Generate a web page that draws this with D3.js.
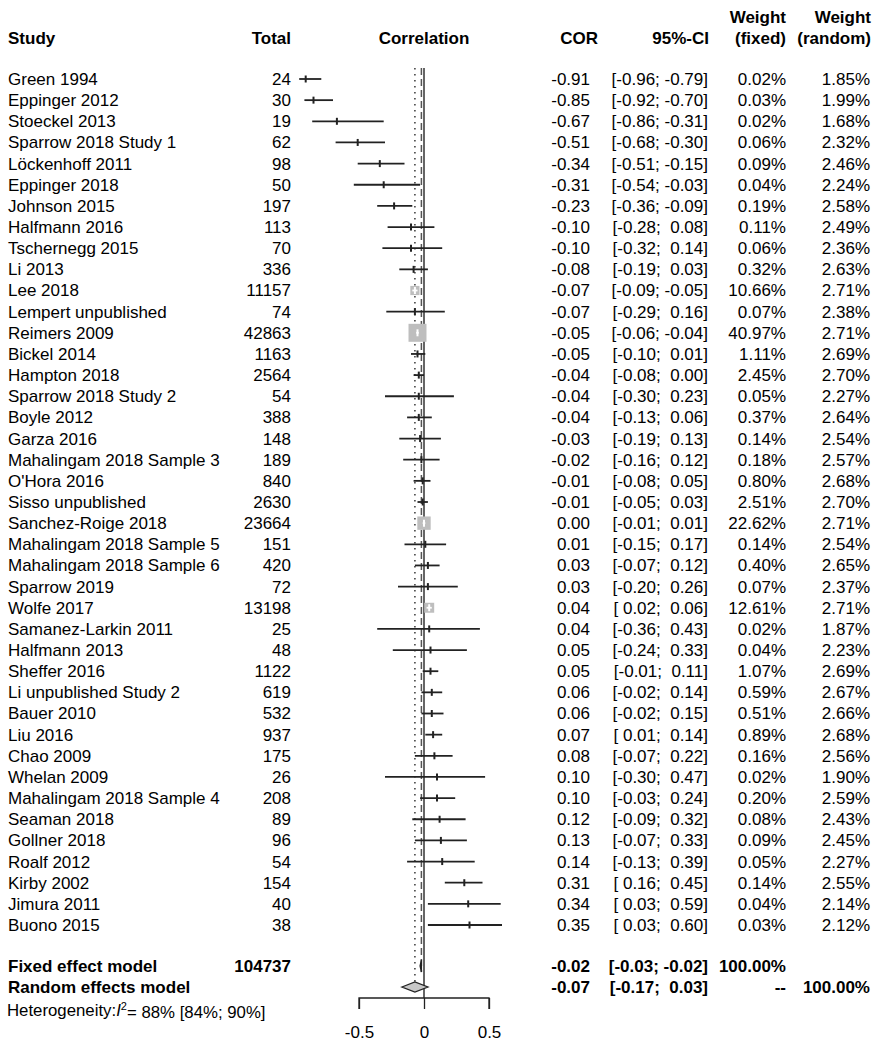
<!DOCTYPE html>
<html>
<head>
<meta charset="utf-8">
<script src="https://cdn.jsdelivr.net/npm/d3@7"></script>
<style>
  body { margin: 0; background: #fff; }
  svg text { font-family: "Liberation Sans", Arial, sans-serif; white-space: pre; }
</style>
</head>
<body>
<svg id="forest" width="877" height="1050"></svg>
<script>
const studies = ["Green 1994", "Eppinger 2012", "Stoeckel 2013", "Sparrow 2018 Study 1", "Löckenhoff 2011",
  "Eppinger 2018", "Johnson 2015", "Halfmann 2016", "Tschernegg 2015", "Li 2013", "Lee 2018",
  "Lempert unpublished", "Reimers 2009", "Bickel 2014", "Hampton 2018", "Sparrow 2018 Study 2",
  "Boyle 2012", "Garza 2016", "Mahalingam 2018 Sample 3", "O'Hora 2016", "Sisso unpublished",
  "Sanchez-Roige 2018", "Mahalingam 2018 Sample 5", "Mahalingam 2018 Sample 6", "Sparrow 2019",
  "Wolfe 2017", "Samanez-Larkin 2011", "Halfmann 2013", "Sheffer 2016", "Li unpublished Study 2",
  "Bauer 2010", "Liu 2016", "Chao 2009", "Whelan 2009", "Mahalingam 2018 Sample 4", "Seaman 2018",
  "Gollner 2018", "Roalf 2012", "Kirby 2002", "Jimura 2011", "Buono 2015"];
const totals = [24, 30, 19, 62, 98, 50, 197, 113, 70, 336, 11157, 74, 42863, 1163, 2564, 54, 388, 148,
  189, 840, 2630, 23664, 151, 420, 72, 13198, 25, 48, 1122, 619, 532, 937, 175, 26, 208, 89, 96, 54,
  154, 40, 38];
const cor = [-0.91, -0.85, -0.67, -0.51, -0.34, -0.31, -0.23, -0.10, -0.10, -0.08, -0.07, -0.07, -0.05,
  -0.05, -0.04, -0.04, -0.04, -0.03, -0.02, -0.01, -0.01, 0.00, 0.01, 0.03, 0.03, 0.04, 0.04, 0.05,
  0.05, 0.06, 0.06, 0.07, 0.08, 0.10, 0.10, 0.12, 0.13, 0.14, 0.31, 0.34, 0.35];
const lower = [-0.96, -0.92, -0.86, -0.68, -0.51, -0.54, -0.36, -0.28, -0.32, -0.19, -0.09, -0.29, -0.06,
  -0.10, -0.08, -0.30, -0.13, -0.19, -0.16, -0.08, -0.05, -0.01, -0.15, -0.07, -0.20, 0.02, -0.36, -0.24,
  -0.01, -0.02, -0.02, 0.01, -0.07, -0.30, -0.03, -0.09, -0.07, -0.13, 0.16, 0.03, 0.03];
const upper = [-0.79, -0.70, -0.31, -0.30, -0.15, -0.03, -0.09, 0.08, 0.14, 0.03, -0.05, 0.16, -0.04,
  0.01, 0.00, 0.23, 0.06, 0.13, 0.12, 0.05, 0.03, 0.01, 0.17, 0.12, 0.26, 0.06, 0.43, 0.33, 0.11, 0.14,
  0.15, 0.14, 0.22, 0.47, 0.24, 0.32, 0.33, 0.39, 0.45, 0.59, 0.60];
const weightFixed = [0.02, 0.03, 0.02, 0.06, 0.09, 0.04, 0.19, 0.11, 0.06, 0.32, 10.66, 0.07, 40.97, 1.11,
  2.45, 0.05, 0.37, 0.14, 0.18, 0.80, 2.51, 22.62, 0.14, 0.40, 0.07, 12.61, 0.02, 0.04, 1.07, 0.59, 0.51,
  0.89, 0.16, 0.02, 0.20, 0.08, 0.09, 0.05, 0.14, 0.04, 0.03];
const weightRandom = [1.85, 1.99, 1.68, 2.32, 2.46, 2.24, 2.58, 2.49, 2.36, 2.63, 2.71, 2.38, 2.71, 2.69,
  2.70, 2.27, 2.64, 2.54, 2.57, 2.68, 2.70, 2.71, 2.54, 2.65, 2.37, 2.71, 1.87, 2.23, 2.69, 2.67, 2.66,
  2.68, 2.56, 1.90, 2.59, 2.43, 2.45, 2.27, 2.55, 2.14, 2.12];

const fixedModel = {label: "Fixed effect model", total: 104737, est: -0.02, lo: -0.03, hi: -0.02, wf: "100.00%", wr: ""};
const randomModel = {label: "Random effects model", total: null, est: -0.07, lo: -0.17, hi: 0.03, wf: "--", wr: "100.00%"};
const axisTicks = [-0.5, 0, 0.5];
const axisLabels = ["-0.5", "0", "0.5"];

const svg = d3.select("#forest");
const fs = 17;

const x = d3.scaleLinear().domain([-1, 1]).range([294, 554]);
const y = d3.scaleLinear().domain([0, studies.length - 1]).range([79, 925]);
const yFixed = 966, yRandom = 987, yAxis = 998;

const fmt = v => (v < 0 ? "" : " ") + v.toFixed(2);
const ci = (l, u) => `[${fmt(l)}; ${fmt(u)}]`;

// columns (right edges)
const col = {total: 291, cor: 590, ci: 708, wf: 786, wr: 870};

// header
const head = svg.append("g").attr("font-weight", "bold").attr("font-size", fs).attr("fill", "#000");
head.append("text").attr("x", 8).attr("y", 38).attr("dy", "0.35em").text("Study");
head.append("text").attr("x", col.total).attr("y", 38).attr("dy", "0.35em").attr("text-anchor", "end").text("Total");
head.append("text").attr("x", x(0)).attr("y", 38).attr("dy", "0.35em").attr("text-anchor", "middle").text("Correlation");
head.append("text").attr("x", 598).attr("y", 38).attr("dy", "0.35em").attr("text-anchor", "end").text("COR");
head.append("text").attr("x", 709).attr("y", 38).attr("dy", "0.35em").attr("text-anchor", "end").text("95%-CI");
head.append("text").attr("x", col.wf).attr("y", 17).attr("dy", "0.35em").attr("text-anchor", "end").text("Weight");
head.append("text").attr("x", col.wf).attr("y", 38).attr("dy", "0.35em").attr("text-anchor", "end").text("(fixed)");
head.append("text").attr("x", 871).attr("y", 17).attr("dy", "0.35em").attr("text-anchor", "end").text("Weight");
head.append("text").attr("x", 871).attr("y", 38).attr("dy", "0.35em").attr("text-anchor", "end").text("(random)");

// reference lines
const lines = svg.append("g").attr("fill", "none");
lines.append("line").attr("x1", x(0)).attr("x2", x(0)).attr("y1", 68).attr("y2", yAxis)
  .attr("stroke", "#333").attr("stroke-width", 1.5);
lines.append("line").attr("x1", x(fixedModel.est)).attr("x2", x(fixedModel.est)).attr("y1", 68).attr("y2", yFixed + 6)
  .attr("stroke", "#555").attr("stroke-width", 1.5).attr("stroke-dasharray", "7,4");
lines.append("line").attr("x1", x(randomModel.est)).attr("x2", x(randomModel.est)).attr("y1", 68).attr("y2", yRandom - 5)
  .attr("stroke", "#444").attr("stroke-width", 1.6).attr("stroke-dasharray", "1.6,4.4");

// study rows
const rows = studies.map((s, i) => ({
  name: s, total: totals[i], est: cor[i], lo: lower[i], hi: upper[i],
  wf: weightFixed[i], wr: weightRandom[i], i
}));

const marks = svg.append("g");
rows.forEach(d => {
  const cy = y(d.i);
  const side = 2.81 * Math.sqrt(d.wf);
  const inside = (x(d.hi) - x(d.lo)) < side;
  if (side > 5) {
    marks.append("rect")
      .attr("x", x(d.est) - side / 2).attr("y", cy - side / 2)
      .attr("width", side).attr("height", side)
      .attr("fill", "#bebebe");
  }
  const c = inside ? "#fff" : "#222";
  marks.append("line")
    .attr("x1", x(d.lo)).attr("x2", x(d.hi)).attr("y1", cy).attr("y2", cy)
    .attr("stroke", c).attr("stroke-width", 1.8);
  marks.append("line")
    .attr("x1", x(d.est)).attr("x2", x(d.est)).attr("y1", cy - 3.5).attr("y2", cy + 3.5)
    .attr("stroke", c).attr("stroke-width", 2);
});

// study text
const txt = svg.append("g").attr("font-size", fs).attr("fill", "#000");
const rowText = txt.selectAll("g").data(rows).join("g")
  .attr("transform", d => `translate(0,${y(d.i)})`);
rowText.append("text").attr("x", 8).attr("dy", "0.35em").text(d => d.name);
rowText.append("text").attr("x", col.total).attr("dy", "0.35em").attr("text-anchor", "end").text(d => d.total);
rowText.append("text").attr("x", col.cor).attr("dy", "0.35em").attr("text-anchor", "end").text(d => d.est.toFixed(2));
rowText.append("text").attr("x", col.ci).attr("dy", "0.35em").attr("text-anchor", "end").text(d => ci(d.lo, d.hi));
rowText.append("text").attr("x", col.wf).attr("dy", "0.35em").attr("text-anchor", "end").text(d => d.wf.toFixed(2) + "%");
rowText.append("text").attr("x", col.wr).attr("dy", "0.35em").attr("text-anchor", "end").text(d => d.wr.toFixed(2) + "%");

// summary diamonds
function diamond(m, cy, h) {
  svg.append("path")
    .attr("d", `M${x(m.lo)},${cy} L${x(m.est)},${cy - h} L${x(m.hi)},${cy} L${x(m.est)},${cy + h} Z`)
    .attr("fill", "#c8c8c8").attr("stroke", "#222").attr("stroke-width", 1.3);
}
diamond(fixedModel, yFixed, 6);
diamond(randomModel, yRandom, 5);

// summary text
const sum = svg.append("g").attr("font-size", fs).attr("font-weight", "bold").attr("fill", "#000");
[[fixedModel, yFixed], [randomModel, yRandom]].forEach(([m, cy]) => {
  const g = sum.append("g").attr("transform", `translate(0,${cy})`);
  g.append("text").attr("x", 8).attr("dy", "0.35em").text(m.label);
  if (m.total !== null) g.append("text").attr("x", col.total).attr("dy", "0.35em").attr("text-anchor", "end").text(m.total);
  g.append("text").attr("x", col.cor).attr("dy", "0.35em").attr("text-anchor", "end").text(m.est.toFixed(2));
  g.append("text").attr("x", col.ci).attr("dy", "0.35em").attr("text-anchor", "end").text(ci(m.lo, m.hi));
  g.append("text").attr("x", col.wf).attr("dy", "0.35em").attr("text-anchor", "end").text(m.wf);
  if (m.wr) g.append("text").attr("x", col.wr).attr("dy", "0.35em").attr("text-anchor", "end").text(m.wr);
});

// heterogeneity
const het = svg.append("text").attr("x", 7).attr("y", 1010).attr("dy", "0.35em")
  .attr("font-size", 16.8).attr("fill", "#000");
het.append("tspan").text("Heterogeneity:");
het.append("tspan").attr("font-style", "italic").text("I");
het.append("tspan").attr("font-size", 11).attr("dy", "-0.55em").text("2");
het.append("tspan").attr("dy", "0.5em").text("= 88% [84%; 90%]");

// axis
const axisScale = d3.scaleLinear().domain([-0.5, 0.5]).range([x(-0.5), x(0.5)]);
const axis = svg.append("g").attr("transform", `translate(0,${yAxis})`)
  .call(d3.axisBottom(axisScale).tickValues(axisTicks).tickSize(11).tickPadding(17)
    .tickFormat((d, i) => axisLabels[i]));
axis.select(".domain").attr("stroke", "#222").attr("stroke-width", 1.3).attr("d", `M${x(-0.5)},11V0H${x(0.5)}V11`);
axis.selectAll(".tick line").attr("stroke", "#222").attr("stroke-width", 1.3);
axis.selectAll(".tick text").attr("font-size", fs).attr("font-family", "Liberation Sans, Arial, sans-serif").attr("fill", "#000");
</script>
</body>
</html>
